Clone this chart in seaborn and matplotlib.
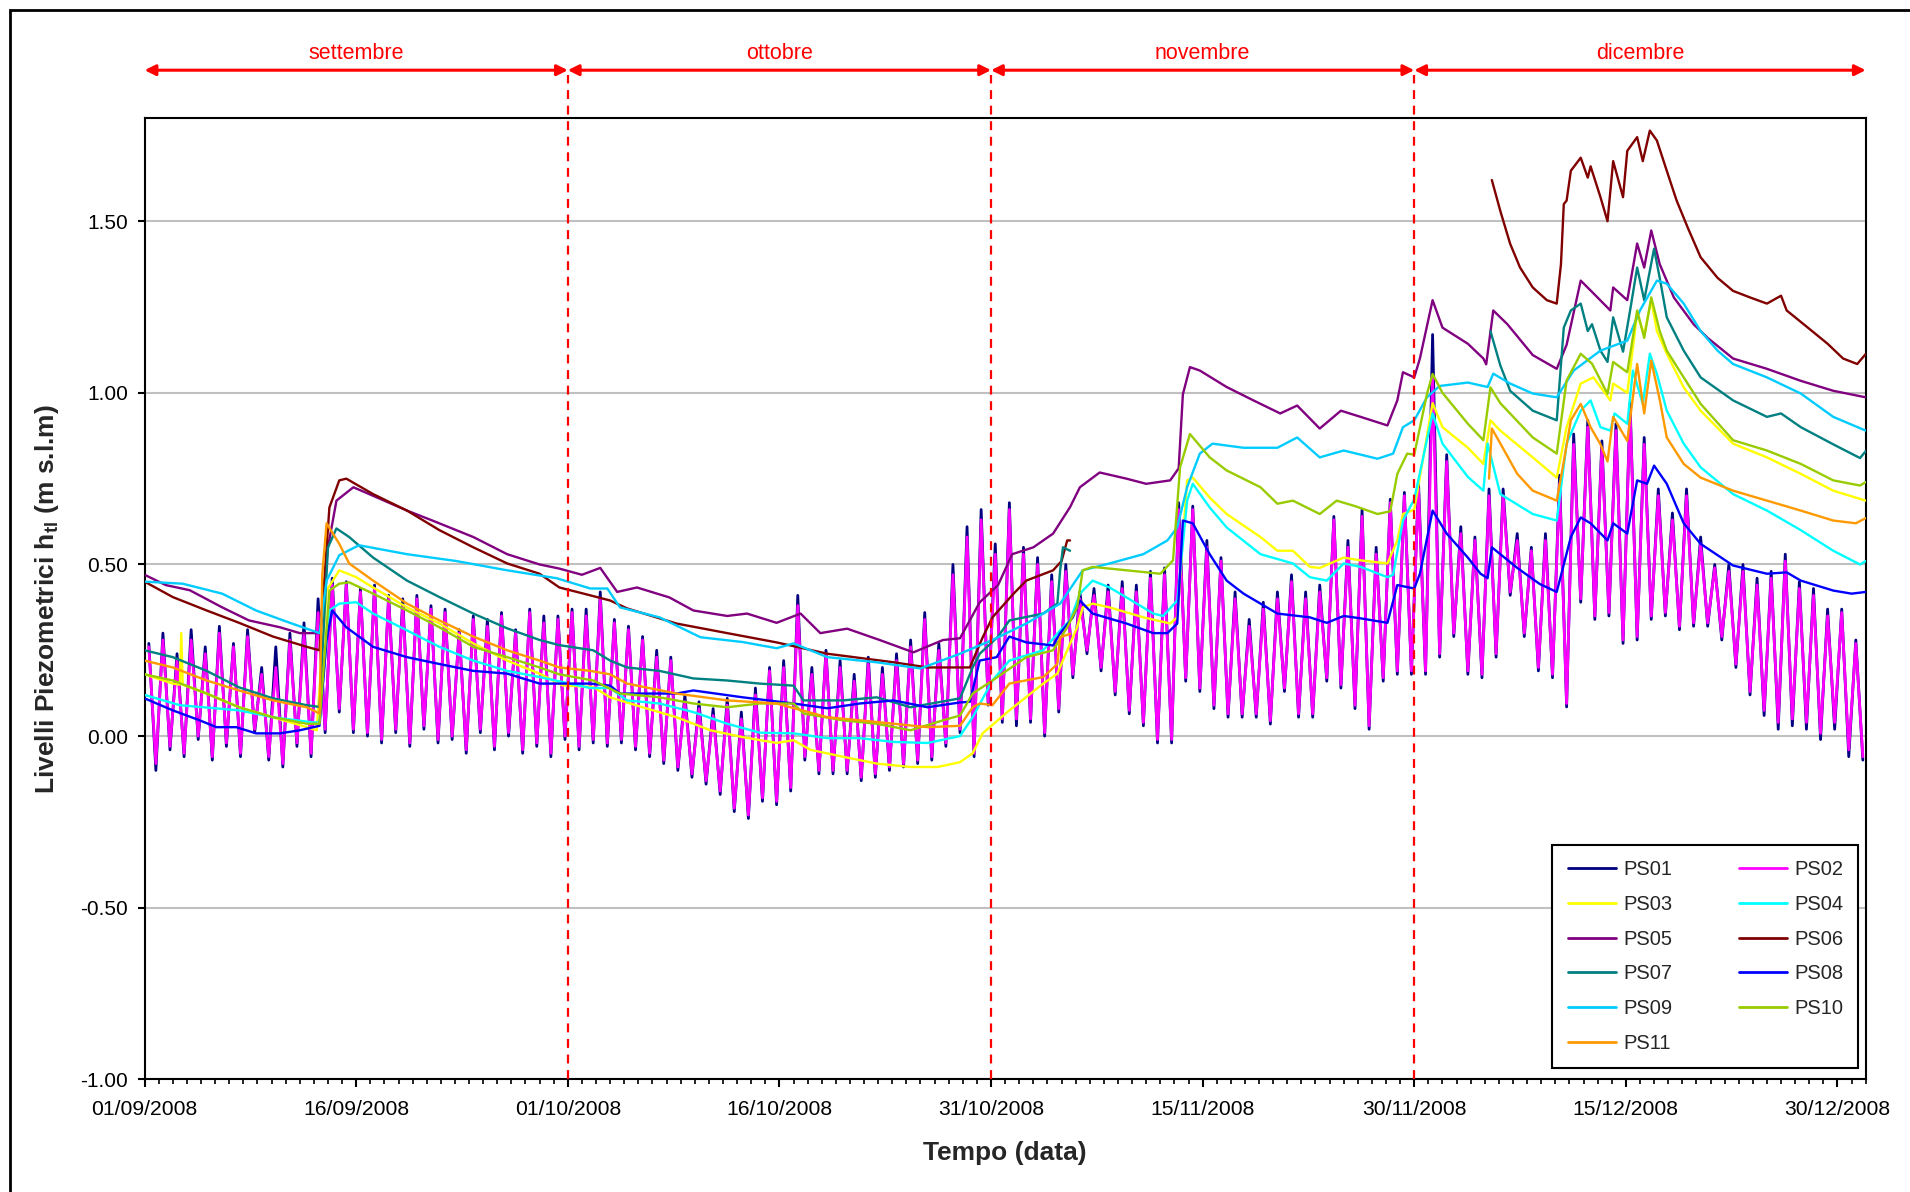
import numpy as np
import pandas as pd
import matplotlib
matplotlib.use("Agg")
import matplotlib.pyplot as plt
import matplotlib.dates as mdates
from matplotlib.ticker import FixedLocator, FormatStrFormatter
from matplotlib.lines import Line2D
from matplotlib.patches import Rectangle
import seaborn as sns

# ---------------------------------------------------------------- data
START = "2008-09-01"
END = "2009-01-01"

# daily high / low tide-driven readings (m s.l.m), day 0 = 01/09/2008
ps01_hi = [0.27,0.30,0.24,0.31,0.26,0.32,0.27,0.31,0.20,0.26,0.30,0.33,0.40,
           0.46,0.45,0.43,0.44,0.41,0.40,0.41,0.38,0.37,0.31,0.35,0.34,0.36,0.31,0.37,0.35,0.35,0.37,
           0.37,0.42,0.34,0.32,0.29,0.25,0.23,0.12,0.10,0.08,0.11,0.07,0.14,0.20,0.22,0.41,0.20,0.25,0.22,0.18,
           0.23,0.20,0.24,0.28,0.36,0.27,0.50,0.61,0.66,0.56,
           0.68,0.55,0.52,0.47,0.50,0.42,0.43,0.44,0.45,0.44,0.48,0.49,0.68,0.67,0.57,0.52,0.42,0.34,0.39,0.42,
           0.47,0.42,0.44,0.64,0.57,0.66,0.55,0.69,0.71,0.74,
           1.17,0.82,0.61,0.58,0.72,0.72,0.59,0.55,0.59,0.76,0.88,0.92,0.86,0.91,0.97,0.87,0.72,0.65,0.72,0.58,
           0.50,0.50,0.50,0.46,0.48,0.53,0.45,0.43,0.37,0.37,0.28]
ps01_lo = [-0.10,-0.04,-0.06,-0.01,-0.07,-0.03,-0.06,0.01,-0.07,-0.09,-0.03,-0.06,0.01,
           0.07,0.01,0.00,-0.02,0.01,-0.03,0.02,-0.02,-0.01,-0.05,0.01,-0.04,0.00,-0.05,-0.03,-0.06,-0.01,-0.04,
           -0.02,-0.03,-0.02,-0.04,-0.06,-0.08,-0.10,-0.12,-0.14,-0.17,-0.22,-0.24,-0.19,-0.20,-0.16,-0.07,-0.11,-0.11,-0.11,-0.13,
           -0.12,-0.10,-0.09,-0.08,-0.07,-0.03,0.01,-0.06,0.09,0.04,
           0.03,0.04,0.00,0.07,0.17,0.24,0.19,0.12,0.065,0.03,-0.02,-0.02,0.16,0.13,0.08,0.055,0.055,0.055,0.035,0.13,
           0.055,0.055,0.16,0.14,0.08,0.02,0.16,0.18,0.18,0.18,
           0.23,0.29,0.18,0.17,0.23,0.41,0.29,0.19,0.17,0.085,0.39,0.34,0.35,0.27,0.28,0.34,0.35,0.31,0.32,0.32,
           0.28,0.20,0.12,0.06,0.02,0.03,0.02,-0.01,0.02,-0.06,-0.07]
ps02_hi = [0.26,0.28,0.22,0.28,0.24,0.30,0.26,0.29,0.18,0.20,0.28,0.30,0.36,
           0.44,0.44,0.42,0.43,0.40,0.38,0.40,0.37,0.36,0.30,0.34,0.32,0.35,0.30,0.36,0.33,0.34,0.36,
           0.35,0.40,0.33,0.31,0.28,0.23,0.22,0.10,0.08,0.06,0.09,0.05,0.12,0.19,0.20,0.38,0.18,0.24,0.20,0.16,
           0.21,0.18,0.22,0.26,0.34,0.25,0.47,0.58,0.63,0.53,
           0.66,0.53,0.50,0.45,0.48,0.40,0.41,0.42,0.43,0.42,0.46,0.47,0.66,0.66,0.55,0.51,0.40,0.32,0.37,0.40,
           0.45,0.40,0.42,0.63,0.55,0.64,0.53,0.68,0.70,0.72,
           1.05,0.80,0.59,0.57,0.70,0.70,0.57,0.54,0.57,0.735,0.85,0.90,0.84,0.89,0.95,0.85,0.70,0.63,0.70,0.56,
           0.49,0.48,0.48,0.44,0.46,0.51,0.43,0.41,0.35,0.36,0.27]
ps02_lo = [-0.08,-0.03,-0.05,0.00,-0.06,-0.02,-0.05,0.02,-0.06,-0.08,-0.02,-0.05,0.02,
           0.08,0.02,0.01,-0.01,0.02,-0.02,0.03,-0.01,0.00,-0.04,0.02,-0.03,0.01,-0.04,-0.02,-0.05,0.00,-0.03,
           -0.01,-0.02,-0.01,-0.03,-0.05,-0.07,-0.09,-0.11,-0.13,-0.16,-0.21,-0.23,-0.18,-0.19,-0.15,-0.06,-0.10,-0.10,-0.10,-0.12,
           -0.11,-0.09,-0.08,-0.07,-0.06,-0.02,0.02,-0.05,0.10,0.05,
           0.05,0.05,0.01,0.08,0.18,0.25,0.20,0.13,0.075,0.04,-0.01,-0.01,0.17,0.14,0.09,0.065,0.065,0.065,0.045,0.14,
           0.065,0.065,0.17,0.15,0.09,0.03,0.17,0.19,0.19,0.19,
           0.24,0.30,0.19,0.18,0.24,0.42,0.30,0.20,0.18,0.095,0.40,0.35,0.36,0.28,0.29,0.35,0.36,0.32,0.33,0.33,
           0.29,0.21,0.13,0.075,0.04,0.05,0.04,0.008,0.04,-0.04,-0.06]

ps03_days = [0,2,2.5,2.6,2.7,4.4,6.7,9.1,11.5,12.2,12.9,13.8,15,16.2,18.6,20.9,23.3,25.7,28,29.6,31.8,33,35.3,37.7,
             40.1,42.4,44.8,46,47.2,49.5,51.9,54.3,56.2,57.8,58.7,59.4,61.3,63.7,64.7,65.4,66.1,66.5,67.2,68.4,70.8,
             72.7,73.2,73.9,74.3,75.5,76.7,79.1,80.3,81.4,82.6,83.3,85,86.2,88.1,88.8,89.2,90,91.3,92,93.8,94.9,95.4,
             96.1,98.4,100.1,100.8,101.8,102.7,103.9,104.1,105.1,105.8,106.3,106.8,107.2,107.9,109.1,110.3,112.6,
             115,117.4,119.7,122]
ps03_vals = [0.18,0.153,0.15,0.30,0.15,0.124,0.084,0.055,0.026,0.017,0.424,0.483,0.463,0.433,0.375,0.328,0.27,0.22,
             0.182,0.148,0.143,0.113,0.084,0.055,0.017,-0.003,-0.02,-0.012,-0.04,-0.06,-0.08,-0.09,-0.09,-0.076,-0.05,
             0.008,0.075,0.153,0.182,0.25,0.317,0.375,0.386,0.375,0.346,0.328,0.346,0.745,0.753,0.695,0.647,0.58,0.54,
             0.54,0.493,0.49,0.52,0.512,0.503,0.57,0.647,0.66,0.97,0.90,0.84,0.793,0.92,0.89,0.812,0.753,0.90,1.027,
             1.045,0.978,1.027,1.0,1.23,1.17,1.27,1.18,1.114,1.016,0.948,0.852,0.812,0.764,0.715,0.686]

ps04_days = [0,2.5,6.7,9.1,11.9,12.4,12.9,13.1,13.8,15,16.2,18.6,20.9,23.3,25.7,28,31.6,33,34.2,36.5,38.9,41.3,43.6,
             46,48.4,50.7,53.1,55.5,57.8,58.7,60.1,61.3,63.7,64.9,65.6,66.3,67.2,68.4,69.6,71.5,72.2,73.2,73.9,74.3,
             75.5,76.7,79.1,81.4,82.6,83.8,85,86.2,88.1,88.5,89.2,90,91.3,92,93.8,94.9,95.2,96.1,98.4,100.1,100.8,
             101.8,102.5,103.2,103.9,104.2,105.1,105.5,106.2,106.7,107.2,107.9,109.1,110.3,112.6,115,117.4,119.7,
             121.6,122]
ps04_vals = [0.12,0.09,0.075,0.055,0.04,0.04,0.28,0.366,0.386,0.39,0.357,0.308,0.26,0.22,0.19,0.172,0.14,0.14,0.104,
             0.095,0.07,0.036,0.01,0.008,-0.006,-0.006,-0.017,-0.02,0.0,0.055,0.162,0.22,0.25,0.308,0.337,0.415,0.453,
             0.433,0.404,0.357,0.35,0.395,0.686,0.735,0.666,0.608,0.53,0.503,0.463,0.453,0.503,0.493,0.463,0.47,0.628,
             0.69,0.94,0.852,0.755,0.715,0.852,0.705,0.647,0.628,0.852,0.948,0.978,0.90,0.89,0.94,0.91,1.065,0.968,
             1.114,1.055,0.948,0.852,0.783,0.705,0.657,0.60,0.54,0.50,0.51]

ps05_days = [0,1.5,3.2,5.5,7.4,9.6,11,12.4,13.0,13.6,14.8,16.2,18.6,20.4,23.3,25.7,28,29.4,31,32.3,33.5,34.9,37.2,
             38.9,41.3,42.7,44.8,46.5,47.9,49.8,52.1,54.5,56.6,57.8,59.2,60.5,61.5,63,64.4,65.6,66.3,67.7,69.6,71,
             72.7,73.3,73.6,74.1,74.8,76.7,78.6,80.5,81.7,83.3,84.8,86.2,88.1,88.8,89.2,90,90.4,91.3,92,93.8,94.9,
             95.1,95.6,96.6,98.4,100.1,100.8,101.8,102.7,103.9,104.1,105.1,105.8,106.3,106.8,107.4,108.4,109.8,
             110.8,112.6,115,117.4,119.7,122]
ps05_vals = [0.47,0.44,0.425,0.375,0.337,0.317,0.30,0.30,0.55,0.686,0.725,0.70,0.657,0.628,0.58,0.53,0.50,0.488,0.47,
             0.49,0.42,0.433,0.404,0.366,0.35,0.357,0.33,0.357,0.30,0.313,0.28,0.244,0.28,0.285,0.39,0.44,0.53,0.55,
             0.59,0.667,0.725,0.768,0.75,0.735,0.745,0.78,0.996,1.075,1.065,1.017,0.978,0.94,0.963,0.896,0.948,0.93,
             0.905,0.978,1.06,1.045,1.10,1.27,1.19,1.143,1.10,1.083,1.24,1.20,1.11,1.07,1.14,1.327,1.29,1.24,1.307,
             1.27,1.435,1.365,1.473,1.375,1.278,1.20,1.16,1.10,1.07,1.035,1.006,0.987]

ps06_days_a = [0,2,4.4,6.7,9.1,11.5,12.4,13.1,13.8,14.3,16.2,18.6,20.9,23.3,25.7,28,29.4,31.6,33,34.2,37.7,41.3,
               44.8,48.4,53.1,55.5,58.5,59.4,60.1,61.6,62.5,64.4,65,65.4,65.6]
ps06_vals_a = [0.45,0.405,0.366,0.33,0.29,0.26,0.25,0.666,0.745,0.75,0.705,0.657,0.60,0.55,0.503,0.473,0.433,0.41,
               0.395,0.372,0.328,0.30,0.273,0.24,0.215,0.20,0.20,0.287,0.346,0.415,0.453,0.483,0.51,0.57,0.57]
ps06_days_b = [95.5,96.1,96.8,97.5,98.4,99.4,100.1,100.4,100.6,100.8,101.1,101.8,102.3,102.5,103.2,103.7,104.1,
               104.8,105.1,105.8,106.2,106.7,107.2,107.9,108.6,109.4,110.3,111.5,112.6,113.8,115,116,116.4,117.9,
               119.3,120.4,121.4,122]
ps06_vals_b = [1.62,1.53,1.434,1.365,1.307,1.27,1.26,1.375,1.55,1.56,1.647,1.685,1.627,1.66,1.57,1.50,1.675,1.57,
               1.705,1.745,1.675,1.764,1.735,1.647,1.56,1.48,1.395,1.335,1.297,1.278,1.26,1.283,1.24,1.19,1.143,
               1.10,1.084,1.113]

ps07_days_a = [0,2,4.4,6.7,9.1,11.5,12.4,13,13.6,14.5,16.2,18.6,20.9,23.3,25.7,28,29.4,31.8,33,34.2,36.5,38.9,41.3,
               43.6,46,46.7,49.5,51.9,54.3,57.8,58.7,59.2,60.5,61.3,63.7,64.7,64.9,65.1,65.6]
ps07_vals_a = [0.25,0.23,0.19,0.142,0.11,0.09,0.085,0.55,0.605,0.58,0.52,0.453,0.405,0.357,0.314,0.28,0.265,0.25,
               0.22,0.20,0.19,0.168,0.162,0.153,0.147,0.104,0.104,0.113,0.084,0.11,0.20,0.24,0.29,0.337,0.357,0.386,
               0.483,0.55,0.54]
ps07_days_b = [95.4,96.1,96.8,98.4,100.1,100.6,101.1,101.8,102.3,102.6,103.2,103.7,104.1,104.8,105.3,105.8,106.3,
               107,107.4,107.9,109.1,110.3,112.6,115,116,117.4,119.7,121.6,122]
ps07_vals_b = [1.18,1.08,1.006,0.948,0.92,1.19,1.24,1.26,1.18,1.2,1.123,1.09,1.22,1.12,1.24,1.365,1.27,1.42,1.335,
               1.22,1.123,1.045,0.978,0.93,0.94,0.90,0.85,0.81,0.83]

ps08_days = [0,2,3.9,5.1,6.5,7.9,9.6,11,12.4,12.9,13.3,14.3,16.2,18.6,20.9,23.3,25.7,28,31.6,33,33.7,37.7,38.9,42.4,
             46,48.4,50.7,53.1,55.5,57.8,58.5,59.2,60.4,61.3,62.5,64.4,64.9,65.8,66.3,67.2,69.6,71.5,72.5,73.2,73.6,
             74.3,75.5,76.7,77.9,80.3,82.6,83.8,85,86.2,88.1,88.8,90,90.4,91.3,92.3,93.8,94.7,95.2,95.5,97.3,98.9,
             100.1,100.6,101.1,101.8,102.5,103.7,104.1,105.1,105.8,106.5,107,107.9,109.1,110.3,112.6,115,116.4,
             117.4,119.7,121,122]
ps08_vals = [0.11,0.075,0.046,0.026,0.026,0.008,0.008,0.017,0.03,0.28,0.366,0.317,0.26,0.23,0.21,0.19,0.182,0.153,
             0.153,0.147,0.124,0.124,0.133,0.113,0.095,0.081,0.095,0.104,0.084,0.098,0.10,0.22,0.23,0.29,0.273,0.264,
             0.30,0.346,0.395,0.357,0.328,0.30,0.30,0.328,0.628,0.62,0.53,0.453,0.415,0.357,0.346,0.33,0.35,0.343,
             0.33,0.44,0.43,0.473,0.657,0.59,0.52,0.473,0.46,0.55,0.49,0.443,0.42,0.50,0.58,0.637,0.62,0.57,0.62,
             0.59,0.745,0.735,0.788,0.735,0.62,0.56,0.497,0.473,0.477,0.453,0.424,0.415,0.42]

ps09_days = [0,2.7,5.5,7.9,10.3,12.4,12.9,13.8,15.2,18.6,22.1,25.7,29.2,31.6,32.8,33.7,36.5,39.4,42.4,44.8,46,48.4,
             51.9,55,57.8,60.1,62.5,64.9,66.5,68.4,70.8,72.5,73.2,73.9,74.8,75.7,77.9,80.3,81.7,83.3,85,87.4,88.5,
             89.2,90,90.9,91.8,93.8,95.2,95.6,96.8,98.4,100.1,101.3,103.2,105.1,106,107.2,107.9,109.1,110.3,111.5,
             112.6,115,117.4,119.7,122]
ps09_vals = [0.45,0.444,0.415,0.366,0.33,0.30,0.453,0.527,0.556,0.53,0.51,0.483,0.46,0.43,0.43,0.375,0.346,0.288,
             0.274,0.256,0.27,0.23,0.215,0.197,0.24,0.28,0.328,0.386,0.483,0.503,0.53,0.57,0.608,0.725,0.823,0.852,
             0.84,0.84,0.87,0.812,0.832,0.808,0.823,0.90,0.92,0.987,1.02,1.03,1.017,1.056,1.027,0.998,0.987,1.065,
             1.123,1.152,1.24,1.327,1.318,1.26,1.18,1.123,1.084,1.045,0.998,0.93,0.89]

ps10_days = [0,2,4.4,6.7,9.1,11.5,12.4,13.1,13.8,14.5,16.2,18.6,20.9,23.3,25.7,28,29.4,31.8,33.7,36.5,38.9,41.3,
             43.6,46,46.7,49.5,51.9,54.3,56.6,57.8,58.7,60.1,62.5,64.4,65.4,66.1,66.5,67.2,69.6,72,72.9,73.4,74.1,
             75.5,76.7,79.1,80.3,81.4,83.3,84.5,85.8,87.4,88.3,88.8,89.5,90,90.9,91.3,92,93.8,94.9,95.4,96.1,98.4,
             100.1,100.8,101.8,102.6,103.7,104.1,105.1,105.8,106.3,106.8,107.4,107.9,109.1,110.3,112.6,115,117.4,
             119.7,121.6,122]
ps10_vals = [0.18,0.162,0.124,0.084,0.055,0.036,0.036,0.424,0.444,0.448,0.415,0.366,0.317,0.26,0.23,0.20,0.18,0.162,
             0.124,0.113,0.095,0.084,0.095,0.095,0.066,0.046,0.036,0.017,0.046,0.06,0.124,0.162,0.23,0.25,0.317,
             0.375,0.483,0.493,0.483,0.473,0.512,0.783,0.88,0.812,0.774,0.725,0.677,0.686,0.647,0.686,0.67,0.647,
             0.655,0.764,0.823,0.82,0.997,1.055,1.0,0.91,0.862,1.016,0.97,0.87,0.823,1.036,1.114,1.085,0.997,1.09,
             1.06,1.24,1.16,1.278,1.18,1.123,1.045,0.968,0.862,0.832,0.793,0.745,0.73,0.74]

ps11_days_a = [0,2,4.4,6.7,9.1,11.5,12.4,12.6,12.9,13.2,13.8,14.5,16.2,18.6,20.9,23.3,25.7,28,29.4,31.6,33,34.2,
               37.7,41.3,44.8,48.4,50.7,53.1,55.5,57.8,58.7,59.2,60.1,61.3,63.7,64.7,64.9,65.6]
ps11_vals_a = [0.22,0.20,0.162,0.133,0.104,0.084,0.066,0.473,0.62,0.60,0.56,0.503,0.453,0.386,0.337,0.29,0.25,0.22,
               0.20,0.19,0.18,0.153,0.124,0.104,0.095,0.055,0.046,0.036,0.026,0.03,0.084,0.095,0.09,0.153,0.172,
               0.21,0.288,0.298]
ps11_days_b = [95.3,95.5,96,97.3,98.4,100.1,100.6,101.1,101.8,102.5,103.2,103.7,104.1,105.1,105.8,106.3,106.8,107.4,
               107.9,109.1,110.3,112.6,115,117.4,119.7,121.3,122]
ps11_vals_b = [0.75,0.896,0.86,0.764,0.715,0.686,0.80,0.92,0.968,0.90,0.85,0.80,0.93,0.86,1.084,0.94,1.094,0.98,
               0.87,0.793,0.753,0.715,0.686,0.657,0.628,0.62,0.635]

series_names = ["PS01", "PS02", "PS03", "PS04", "PS05", "PS06", "PS07", "PS08", "PS09", "PS10", "PS11"]
series_colors = ["#000080", "#FF00FF", "#FFFF00", "#00FFFF", "#800080", "#800000",
                 "#008080", "#0000FF", "#00CCFF", "#99CC00", "#FF9900"]

xtick_dates = ["2008-09-01", "2008-09-16", "2008-10-01", "2008-10-16", "2008-10-31",
               "2008-11-15", "2008-11-30", "2008-12-15", "2008-12-30"]
ytick_vals = [-1.0, -0.5, 0.0, 0.5, 1.0, 1.5]

month_names = ["settembre", "ottobre", "novembre", "dicembre"]
month_bounds = ["2008-09-01", "2008-10-01", "2008-10-31", "2008-11-30", "2009-01-01"]

# ---------------------------------------------------------------- helpers
start = pd.Timestamp(START)


def to_dates(days):
    return start + pd.to_timedelta(np.asarray(days, dtype=float), unit="D")


def tide_series(hi, lo):
    t = np.concatenate([np.arange(len(hi)) + 0.3, np.arange(len(lo)) + 0.8])
    v = np.concatenate([hi, lo])
    order = np.argsort(t)
    return [(t[order], v[order])]


segments = {
    "PS01": tide_series(ps01_hi, ps01_lo),
    "PS02": tide_series(ps02_hi, ps02_lo),
    "PS03": [(ps03_days, ps03_vals)],
    "PS04": [(ps04_days, ps04_vals)],
    "PS05": [(ps05_days, ps05_vals)],
    "PS06": [(ps06_days_a, ps06_vals_a), (ps06_days_b, ps06_vals_b)],
    "PS07": [(ps07_days_a, ps07_vals_a), (ps07_days_b, ps07_vals_b)],
    "PS08": [(ps08_days, ps08_vals)],
    "PS09": [(ps09_days, ps09_vals)],
    "PS10": [(ps10_days, ps10_vals)],
    "PS11": [(ps11_days_a, ps11_vals_a), (ps11_days_b, ps11_vals_b)],
}
colors = dict(zip(series_names, series_colors))
widths = {n: (2.0 if n in ("PS01", "PS02") else 1.7) for n in series_names}

# ---------------------------------------------------------------- style
sns.set_theme(style="white")
plt.rcParams["font.family"] = ["Liberation Sans", "DejaVu Sans"]
plt.rcParams["mathtext.fontset"] = "custom"
plt.rcParams["mathtext.rm"] = "Liberation Sans"
plt.rcParams["mathtext.bf"] = "Liberation Sans:bold"
plt.rcParams["mathtext.it"] = "Liberation Sans:italic"

fig = plt.figure(figsize=(19.1, 11.92), dpi=100)
fig.patch.set_facecolor("white")
ax = fig.add_axes([0.0757, 0.0945, 0.9011, 0.8063])
ax.set_facecolor("white")

for name in series_names:
    for d, v in segments[name]:
        frame = pd.DataFrame({"date": to_dates(d), "val": np.asarray(v, dtype=float)})
        sns.lineplot(data=frame, x="date", y="val", color=colors[name], lw=widths[name],
                     estimator=None, sort=False, legend=False, ax=ax, zorder=3)

ax.set_xlim(pd.Timestamp(START), pd.Timestamp(END))
ax.set_ylim(-1.0, 1.8)

ax.xaxis.set_major_locator(FixedLocator(mdates.date2num(pd.to_datetime(xtick_dates))))
ax.xaxis.set_major_formatter(mdates.DateFormatter("%d/%m/%Y"))
ax.xaxis.set_minor_locator(mdates.DayLocator())
ax.set_yticks(ytick_vals)
ax.yaxis.set_major_formatter(FormatStrFormatter("%.2f"))

ax.tick_params(axis="both", which="both", bottom=True, left=True, top=False, right=False,
               direction="out", colors="black")
ax.tick_params(axis="x", which="major", length=6, width=1.5, labelsize=15.2, pad=9)
ax.tick_params(axis="x", which="minor", length=3.5, width=1.2)
ax.tick_params(axis="y", which="major", length=5, width=1.5, labelsize=15, pad=7)

ax.yaxis.grid(True, color="#C0C0C0", lw=1.5)
ax.xaxis.grid(False)
ax.set_axisbelow(True)
for sp in ax.spines.values():
    sp.set_visible(True)
    sp.set_color("black")
    sp.set_linewidth(1.5)

ax.set_xlabel("Tempo (data)", fontsize=19, fontweight="bold", labelpad=16)
ax.set_ylabel(r"Livelli Piezometrici h$_{\mathbf{tl}}$ (m s.l.m)", fontsize=19,
              fontweight="bold", labelpad=14)

# month arrows, labels and dashed separators
bounds = mdates.date2num(pd.to_datetime(month_bounds))
for i, mname in enumerate(month_names):
    x0, x1 = bounds[i], bounds[i + 1]
    ax.annotate("", xy=(x1, 1.94), xytext=(x0, 1.94), xycoords="data",
                arrowprops=dict(arrowstyle="<|-|>", color="red", lw=2.2,
                                mutation_scale=16, shrinkA=0, shrinkB=0),
                annotation_clip=False)
    ax.text((x0 + x1) / 2, 1.99, mname, color="red", ha="center", va="center",
            fontsize=15.5, clip_on=False)
for b in bounds[1:-1]:
    ax.plot([b, b], [-1.0, 1.925], color="red", lw=1.6, ls=(0, (4, 3)),
            clip_on=False, zorder=10)

# legend (row-major like the original)
order = ["PS01", "PS03", "PS05", "PS07", "PS09", "PS11", "PS02", "PS04", "PS06", "PS08", "PS10"]
handles = [Line2D([], [], color=colors[n], lw=2) for n in order]
leg = ax.legend(handles, order, ncol=2, loc="lower right", bbox_to_anchor=(0.9956, 0.0118),
                borderaxespad=0, frameon=True, fancybox=False, shadow=False, edgecolor="black",
                facecolor="white", framealpha=1, fontsize=14.5, handlelength=2.4, handletextpad=0.35,
                columnspacing=3.3, labelspacing=0.78, borderpad=0.75)
leg.get_frame().set_linewidth(1.5)
leg.set_zorder(20)

# outer frame of the picture
fig.add_artist(Rectangle((10 / 1910, -0.05), 1.2, 1.05 - 10 / 1192, transform=fig.transFigure,
                         fill=False, edgecolor="black", lw=2))

fig.savefig("out.png", dpi=100)
